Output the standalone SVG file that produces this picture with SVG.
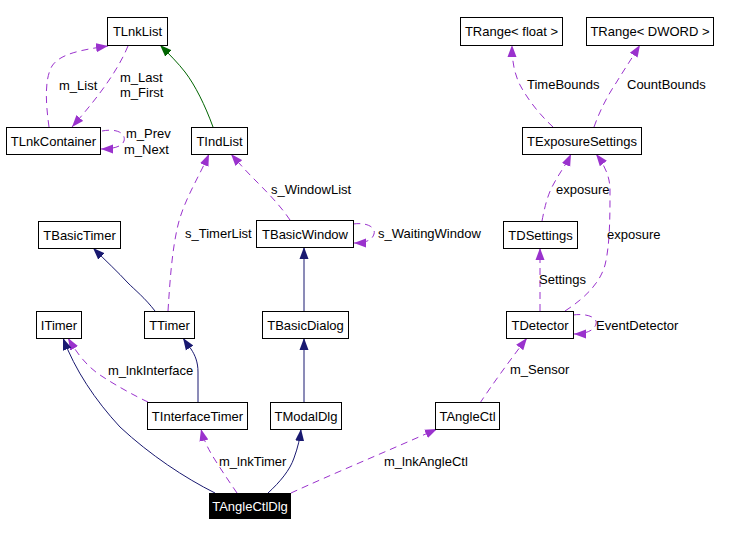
<svg xmlns="http://www.w3.org/2000/svg" width="731" height="537" viewBox="0 0 731 537">
<defs>
<style>
.n rect{fill:#fff;stroke:#000;stroke-width:1}
text{font-family:"Liberation Sans",Arial,sans-serif;font-size:13px;fill:#000}
.n text{text-anchor:middle}
.e path{fill:none;stroke-width:1}
.u{stroke:#9a32cd;stroke-dasharray:7,5;marker-end:url(#ap)}
.b{stroke:#191970;marker-end:url(#ab)}
.g{stroke:#006400;marker-end:url(#ag)}
</style>
<marker id="ap" markerUnits="userSpaceOnUse" markerWidth="12" markerHeight="10" refX="12" refY="5" orient="auto"><path d="M0,0.5 L12,5 L0,9.5 z" fill="#9a32cd"/></marker>
<marker id="ab" markerUnits="userSpaceOnUse" markerWidth="12" markerHeight="10" refX="12" refY="5" orient="auto"><path d="M0,0.5 L12,5 L0,9.5 z" fill="#191970"/></marker>
<marker id="ag" markerUnits="userSpaceOnUse" markerWidth="12" markerHeight="10" refX="12" refY="5" orient="auto"><path d="M0,0.5 L12,5 L0,9.5 z" fill="#006400"/></marker>
</defs>
<rect width="731" height="537" fill="#fff"/>
<g id="edges" class="e">
<path class="u" d="M49,127 C46,105 44,80 52,66 C60,54 80,50 108,46"/>
<path class="u" d="M128,46 C118,70 100,95 72,127"/>
<path class="u" d="M102,131 C118,128 126,134 124,141 C122,147 112,149 101,149"/>
<path class="g" d="M213,127 C205,105 195,85 185,72 C178,63 170,55 160,45"/>
<path class="u" d="M168,311 C170,280 172,250 178,225 C184,200 200,175 209,154"/>
<path class="u" d="M290,220 C280,205 265,190 255,180 C245,170 238,162 231,154"/>
<path class="u" d="M353,224 C368,222 376,228 374,234 C372,241 364,243 354,243"/>
<path class="u" d="M553,127 C540,115 528,100 520,85 C514,73 512,60 512,45"/>
<path class="u" d="M594,127 C600,110 608,95 616,83 C624,70 632,58 640,45"/>
<path class="u" d="M542,221 C545,205 548,195 552,187 C558,175 566,165 571,154"/>
<path class="u" d="M565,311 C585,298 600,283 605,265 C610,245 610,215 610,190 C610,175 603,163 596,154"/>
<path class="u" d="M540,311 L540,248"/>
<path class="u" d="M573,315 C588,313 598,318 596,324 C594,331 585,334 574,334"/>
<path class="u" d="M480,403 C492,385 510,360 527,338"/>
<path class="b" d="M155,311 C145,298 135,290 128,283 C118,272 105,260 93,248"/>
<path class="b" d="M304,311 L304,247"/>
<path class="b" d="M304,402 L304,338"/>
<path class="b" d="M198,402 L198,372 C198,362 195,355 191,349 C188,345 185,341 183,338"/>
<path class="u" d="M148,402 C135,396 115,385 100,375 C85,365 75,350 68,338"/>
<path class="b" d="M215,493 C185,478 150,455 120,427 C95,400 75,370 63,338"/>
<path class="u" d="M237,493 C228,480 218,465 212,455 C206,445 203,437 201,429"/>
<path class="b" d="M268,493 C280,482 290,470 294,458 C298,447 300,438 301,429"/>
<path class="u" d="M291,493 C330,475 390,450 437,429"/>
<text x="59" y="90">m_List</text>
<text x="120" y="82">m_Last</text>
<text x="120" y="97">m_First</text>
<text x="126" y="138">m_Prev</text>
<text x="124" y="154">m_Next</text>
<text x="185" y="238">s_TimerList</text>
<text x="271" y="194">s_WindowList</text>
<text x="378" y="238">s_WaitingWindow</text>
<text x="527" y="89">TimeBounds</text>
<text x="627" y="89">CountBounds</text>
<text x="556" y="194">exposure</text>
<text x="607" y="239">exposure</text>
<text x="539" y="284">Settings</text>
<text x="596" y="330">EventDetector</text>
<text x="510" y="374">m_Sensor</text>
<text x="108" y="375">m_lnkInterface</text>
<text x="219" y="466">m_lnkTimer</text>
<text x="384" y="466">m_lnkAngleCtl</text>
</g>
<g id="TLnkList" class="n"><rect x="107.5" y="17.5" width="60" height="28"/><text x="137.5" y="36">TLnkList</text></g>
<g id="TLnkContainer" class="n"><rect x="6.5" y="127.5" width="94" height="27"/><text x="53.5" y="146">TLnkContainer</text></g>
<g id="TIndList" class="n"><rect x="191.5" y="127.5" width="56" height="27"/><text x="219.5" y="146">TIndList</text></g>
<g id="TRangeFloat" class="n"><rect x="460.5" y="17.5" width="102" height="28"/><text x="511.5" y="36">TRange&lt; float &gt;</text></g>
<g id="TRangeDWORD" class="n"><rect x="586.5" y="17.5" width="127" height="28"/><text x="650" y="36">TRange&lt; DWORD &gt;</text></g>
<g id="TExposureSettings" class="n"><rect x="522.5" y="127.5" width="119" height="27"/><text x="582" y="146">TExposureSettings</text></g>
<g id="TBasicTimer" class="n"><rect x="38.5" y="221.5" width="82" height="27"/><text x="79.5" y="240">TBasicTimer</text></g>
<g id="TBasicWindow" class="n"><rect x="256.5" y="220.5" width="97" height="27"/><text x="305" y="239">TBasicWindow</text></g>
<g id="TDSettings" class="n"><rect x="503.5" y="221.5" width="74" height="27"/><text x="540.5" y="240">TDSettings</text></g>
<g id="ITimer" class="n"><rect x="36.5" y="311.5" width="45" height="27"/><text x="59" y="330">ITimer</text></g>
<g id="TTimer" class="n"><rect x="144.5" y="311.5" width="50" height="27"/><text x="169.5" y="330">TTimer</text></g>
<g id="TBasicDialog" class="n"><rect x="262.5" y="311.5" width="86" height="27"/><text x="305.5" y="330">TBasicDialog</text></g>
<g id="TDetector" class="n"><rect x="506.5" y="311.5" width="67" height="27"/><text x="540" y="330">TDetector</text></g>
<g id="TInterfaceTimer" class="n"><rect x="147.5" y="402.5" width="100" height="27"/><text x="197.5" y="421">TInterfaceTimer</text></g>
<g id="TModalDlg" class="n"><rect x="270.5" y="402.5" width="71" height="27"/><text x="306" y="421">TModalDlg</text></g>
<g id="TAngleCtl" class="n"><rect x="435.5" y="402.5" width="64" height="27"/><text x="467.5" y="421">TAngleCtl</text></g>
<g id="TAngleCtlDlg"><rect x="209" y="493" width="82" height="26" fill="#000"/><text x="250" y="511" text-anchor="middle" style="fill:#fff">TAngleCtlDlg</text></g>
</svg>
